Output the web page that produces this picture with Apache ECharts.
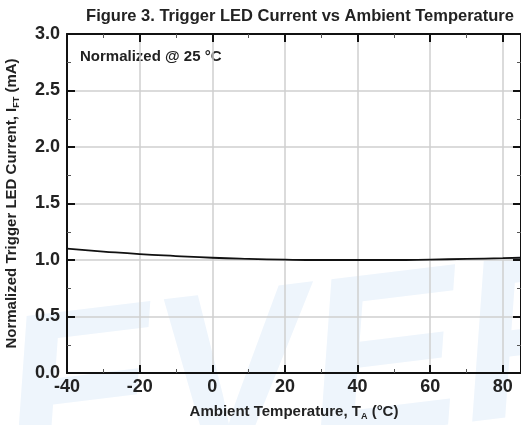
<!DOCTYPE html>
<html>
<head>
<meta charset="utf-8">
<script src="https://cdn.jsdelivr.net/npm/echarts@6/dist/echarts.min.js"></script>
<style>
  html, body { margin: 0; padding: 0; background: #fff; }
  #chart { width: 521px; height: 425px; }
</style>
</head>
<body>
<div id="chart"></div>
<script>
var temps = [-40, -30, -20, -10, 0, 10, 20, 30, 40, 50, 60, 70, 80, 85];
var current = [1.10, 1.075, 1.052, 1.035, 1.02, 1.01, 1.003, 1.0, 1.0, 1.0, 1.004, 1.01, 1.016, 1.02];
var xTicks = { min: -40, max: 85, step: 20 };
var yTicks = { min: 0, max: 3, step: 0.5 };

var chart = echarts.init(document.getElementById("chart"));
var font = "Liberation Sans, Arial, sans-serif";

var points = temps.map(function (t, i) { return [t, current[i]]; });

function frameAxis(extra) {
  var a = {
    type: "value",
    axisLine: { show: true, onZero: false, lineStyle: { color: "#111", width: 2 } },
    axisTick: { inside: true, length: 8, lineStyle: { color: "#111", width: 2 } },
    minorTick: { show: true, splitNumber: 2, length: 4, lineStyle: { color: "#555" } },
    axisLabel: { show: false },
    splitLine: { show: false }
  };
  for (var k in extra) a[k] = extra[k];
  return a;
}

var nameRich = {
  n: { fontSize: 15, fontWeight: "bold", color: "#222", fontFamily: font },
  s: { fontSize: 9, fontWeight: "bold", color: "#222", fontFamily: font, padding: [9, 0, 0, 0] }
};

chart.setOption({
  animation: false,
  textStyle: { fontFamily: font },
  title: {
    text: "Figure 3. Trigger LED Current vs Ambient Temperature",
    left: 295,
    textAlign: "center",
    top: 3,
    textStyle: { fontSize: 16.5, fontWeight: "bold", color: "#222", fontFamily: font }
  },
  graphic: [
    {
      type: "text",
      x: -10,
      y: 300,
      rotation: 0.12,
      z: -10,
      silent: true,
      style: {
        text: "EVERLIGHT",
        font: "italic bold 230px " + font,
        fill: "#eef5fc"
      }
    },
    {
      type: "text",
      left: 80,
      top: 49,
      style: {
        text: "Normalized @ 25 °C",
        font: "bold 15px " + font,
        fill: "#222"
      }
    }
  ],
  grid: { left: 67, right: 0, top: 34, bottom: 52, outerBoundsMode: "none" },
  xAxis: [
    frameAxis({
      min: xTicks.min,
      max: xTicks.max,
      interval: xTicks.step,
      name: "{n|Ambient Temperature, T}{s|A}{n| (°C)}",
      nameLocation: "middle",
      nameGap: 30,
      nameTextStyle: { rich: nameRich },
      axisLabel: {
        show: true, fontSize: 18, fontWeight: "bold", color: "#222", margin: 5,
        formatter: function (v) { return v % 20 === 0 ? String(v) : ""; }
      },
      splitLine: { show: true, lineStyle: { color: "#cfcfcf", width: 1.5 } }
    }),
    frameAxis({
      position: "top",
      min: xTicks.min,
      max: xTicks.max,
      interval: xTicks.step
    })
  ],
  yAxis: [
    frameAxis({
      min: yTicks.min,
      max: yTicks.max,
      interval: yTicks.step,
      name: "{n|Normalized Trigger LED Current, I}{s|FT}{n| (mA)}",
      nameLocation: "middle",
      nameGap: 46,
      nameTextStyle: { rich: nameRich },
      axisLabel: {
        show: true, fontSize: 18, fontWeight: "bold", color: "#222", margin: 7,
        formatter: function (v) { return v.toFixed(1); }
      },
      splitLine: { show: true, lineStyle: { color: "#cfcfcf", width: 1.5 } }
    }),
    frameAxis({
      position: "right",
      min: yTicks.min,
      max: yTicks.max,
      interval: yTicks.step
    })
  ],
  series: [
    {
      type: "line",
      data: points,
      smooth: true,
      showSymbol: false,
      lineStyle: { color: "#111", width: 1.8 }
    }
  ]
});
</script>
</body>
</html>
